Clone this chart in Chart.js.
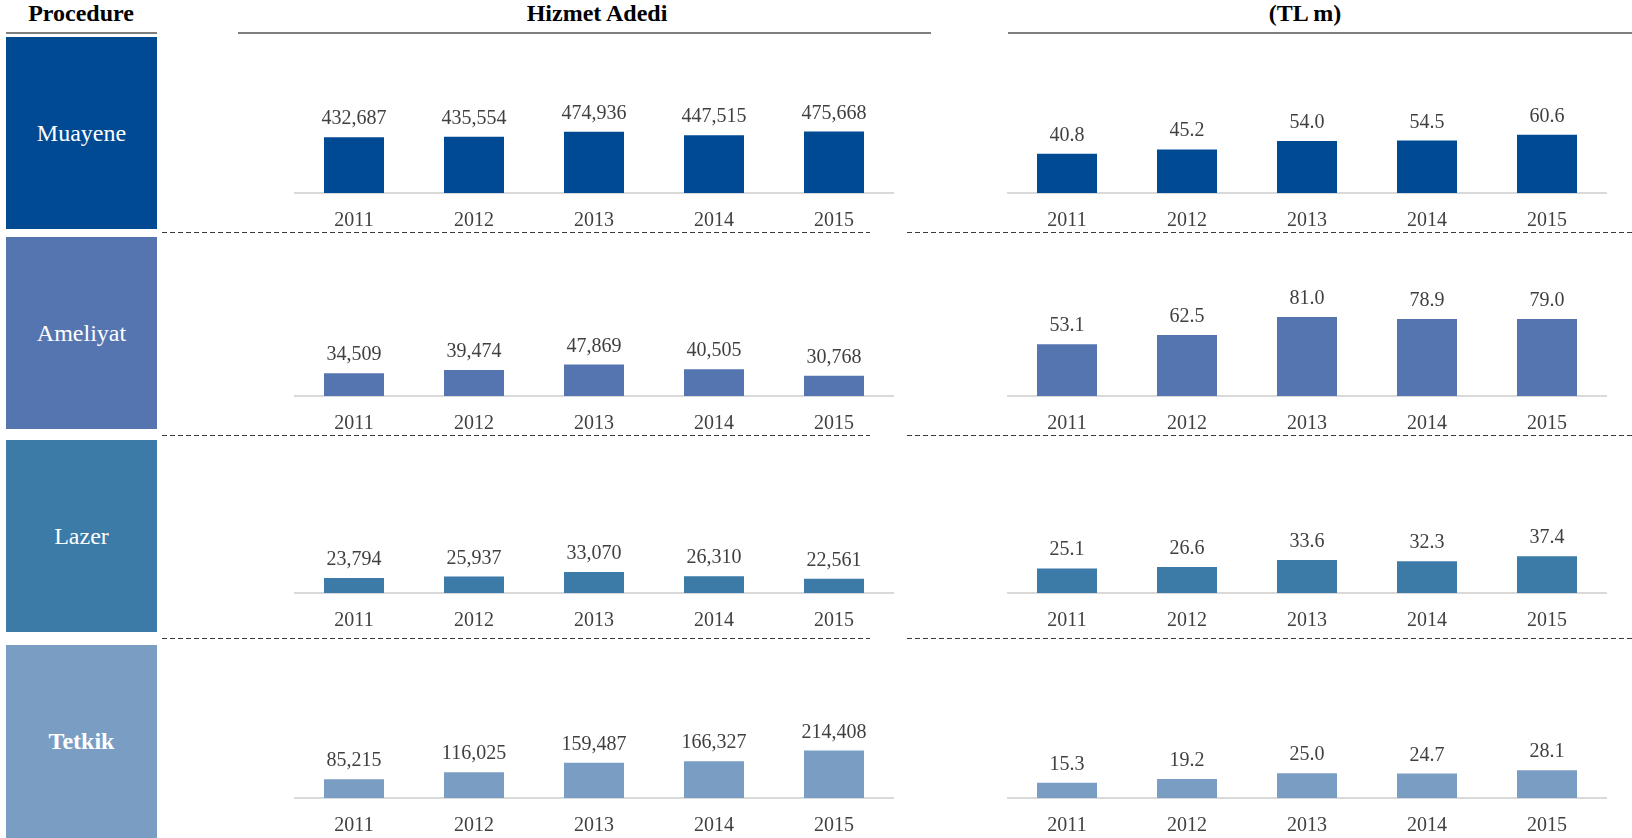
<!DOCTYPE html>
<html>
<head>
<meta charset="utf-8">
<script src="https://cdn.jsdelivr.net/npm/chart.js@4.4.1/dist/chart.umd.min.js"></script>
<style>
  html, body { margin: 0; padding: 0; background: #fff; }
  body { width: 1632px; height: 838px; position: relative; overflow: hidden; font-family: 'Liberation Serif', serif; }
  .hdr { position: absolute; font-weight: bold; font-size: 24px; color: #000; white-space: nowrap; transform: translateX(-50%); top: 0px; line-height: normal; }
  .hline { position: absolute; height: 2px; background: #7f7f7f; top: 32px; }
  .box { position: absolute; left: 6px; width: 151px; display: flex; align-items: center; justify-content: center; color: #fff; font-size: 24px; }
  .dash { position: absolute; height: 1px; background: repeating-linear-gradient(to right, #3a3a3a 0 5px, transparent 5px 8px); }
  .cw { position: absolute; }
</style>
</head>
<body>
<div id="root"></div>
<script>
// ---- data ----
const years = ['2011', '2012', '2013', '2014', '2015'];
const procedures = ['Muayene', 'Ameliyat', 'Lazer', 'Tetkik'];
const headers = ['Procedure', 'Hizmet Adedi', '(TL m)'];

const hizmetMuayene  = [432687, 435554, 474936, 447515, 475668];
const hizmetAmeliyat = [34509, 39474, 47869, 40505, 30768];
const hizmetLazer    = [23794, 25937, 33070, 26310, 22561];
const hizmetTetkik   = [85215, 116025, 159487, 166327, 214408];

const tlMuayene  = [40.8, 45.2, 54.0, 54.5, 60.6];
const tlAmeliyat = [53.1, 62.5, 81.0, 78.9, 79.0];
const tlLazer    = [25.1, 26.6, 33.6, 32.3, 37.4];
const tlTetkik   = [15.3, 19.2, 25.0, 24.7, 28.1];

const hizmetAxisMax = [1209000, 241700, 241700, 691500];
const tlAxisMax     = [162, 163, 156, 154.5];

// ---- layout / style ----
const colors = ['#004A93', '#5575B1', '#3C7AA8', '#7A9DC4'];
const boxTop = [37, 237, 440, 645];
const boxBottom = [229, 429, 632, 838];
const axisY = [193, 396, 593, 798];
const dashY = [232, 435, 638];
const FONT = "'Liberation Serif', serif";
const TXT = '#404040';
const FS = 20;

const root = document.getElementById('root');
function el(cls, style, text) {
  const d = document.createElement('div');
  d.className = cls;
  Object.assign(d.style, style);
  if (text !== undefined) d.textContent = text;
  root.appendChild(d);
  return d;
}

// headers
el('hdr', { left: '81px' }, headers[0]);
el('hdr', { left: '597px' }, headers[1]);
el('hdr', { left: '1305px' }, headers[2]);
el('hline', { left: '6px', width: '151px' });
el('hline', { left: '238px', width: '693px' });
el('hline', { left: '1008px', width: '624px' });

// boxes
procedures.forEach((p, i) => {
  el('box', {
    top: boxTop[i] + 'px',
    height: (boxBottom[i] - boxTop[i]) + 'px',
    background: colors[i],
    fontWeight: p === 'Tetkik' ? 'bold' : 'normal'
  }, p);
});

// dashed separators
dashY.forEach(y => {
  el('dash', { top: y + 'px', left: '162px', width: '708px' });
  el('dash', { top: y + 'px', left: '907px', width: '725px' });
});

const valueLabels = {
  id: 'valueLabels',
  afterDatasetsDraw(chart, args, opts) {
    const ctx = chart.ctx;
    const meta = chart.getDatasetMeta(0);
    const data = chart.data.datasets[0].data;
    ctx.save();
    ctx.font = FS + 'px ' + FONT;
    ctx.fillStyle = TXT;
    ctx.textAlign = 'center';
    ctx.textBaseline = 'alphabetic';
    meta.data.forEach((bar, i) => {
      ctx.fillText(opts.fmt(data[i]), bar.x, bar.y - 13);
    });
    ctx.restore();
  }
};

const TICK_PAD = 15.5;
const LINE_H = FS * 1.2;

function makeChart(left, rowIdx, values, yMax, fmt) {
  const top = boxTop[rowIdx];
  const h = Math.round(axisY[rowIdx] - top + 2 * TICK_PAD + LINE_H);
  const wrap = el('cw', { left: left + 'px', top: top + 'px', width: '600px', height: h + 'px' });
  const cv = document.createElement('canvas');
  cv.width = 600; cv.height = h;
  cv.style.width = '600px'; cv.style.height = h + 'px';
  wrap.appendChild(cv);
  new Chart(cv, {
    type: 'bar',
    data: {
      labels: years,
      datasets: [{
        data: values,
        backgroundColor: colors[rowIdx],
        borderWidth: 0,
        barPercentage: 0.5,
        categoryPercentage: 1.0
      }]
    },
    options: {
      responsive: false,
      animation: false,
      devicePixelRatio: 1,
      layout: { padding: 0 },
      plugins: {
        legend: { display: false },
        tooltip: { enabled: false },
        valueLabels: { fmt: fmt }
      },
      scales: {
        x: {
          grid: { display: false, drawTicks: false },
          border: { display: true, color: '#d9d9d9', width: 2 },
          ticks: { color: TXT, padding: TICK_PAD, font: { family: FONT, size: FS, lineHeight: 1.2 } }
        },
        y: { display: false, min: 0, max: yMax }
      }
    },
    plugins: [valueLabels]
  });
}

const fmtInt = v => v.toLocaleString('en-US');
const fmtDec = v => v.toFixed(1);

const hizmetRows = [hizmetMuayene, hizmetAmeliyat, hizmetLazer, hizmetTetkik];
const tlRows = [tlMuayene, tlAmeliyat, tlLazer, tlTetkik];
for (let i = 0; i < 4; i++) {
  makeChart(294, i, hizmetRows[i], hizmetAxisMax[i], fmtInt);
  makeChart(1007, i, tlRows[i], tlAxisMax[i], fmtDec);
}
</script>
</body>
</html>
